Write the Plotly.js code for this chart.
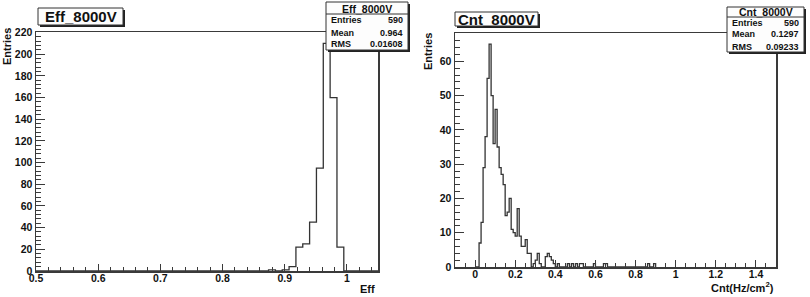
<!DOCTYPE html>
<html>
<head>
<meta charset="utf-8">
<script src="https://cdn.plot.ly/plotly-3.0.1.min.js"></script>
<style>html,body{margin:0;padding:0;background:#fff;}#plot{width:810px;height:297px;}</style>
</head>
<body>
<div id="plot"></div>
<script>
// ---------- data ----------
// Left histogram: Eff_8000V, 50 bins on [0.5, 1.05]
const effLow = 0.5;
const effBinWidth = 0.011;
const effCounts = [
  0,0,0,0,0,0,0,0,0,0,
  0,0,0,0,0,0,0,0,0,0,
  0,0,0,0,0,0,0,0,0,0,
  0,0,0,0,1,0,1,4,22,25,
  45,95,210,160,22,0,0,0,0,0
];
// Right histogram: Cnt_8000V, bins of 0.01 starting at 0.0 (axis -0.1 .. 1.5)
const cntLow = 0.0;
const cntBinWidth = 0.01;
const cntCounts = [
  0,0,7,13,29,38,55,65,50,36,
  46,35,29,27,24,15,16,20,11,10,
  9,17,9,6,6,8,4,4,0,1,
  2,4,1,0,0,3,4,3,2,1,
  0,1,0,0,0,0,1,0,1,0,
  1,0,1,1,0,0,0,0,0,1,
  0,0,0,0,1,1,0,0,0,0,
  0,0,0,0,0,0,0,0,0,0,
  0,0,0,0,0,0,1,0,0,1
];
const effStats = {name:'Eff_8000V', entries:'590', mean:'0.964', rms:'0.01608'};
const cntStats = {name:'Cnt_8000V', entries:'590', mean:'0.1297', rms:'0.09233'};
const xTitles = ['Eff', 'Cnt(Hz/cm<sup>2</sup>)'];
const yTitle = 'Entries';

// ---------- helpers ----------
const W = 810, H = 297;
const px = x => x / W;
const py = y => 1 - y / H;

function stepXY(low, width, counts) {
  const xs = [], ys = [];
  xs.push(low); ys.push(0);
  for (let i = 0; i < counts.length; i++) {
    xs.push(low + i * width); ys.push(counts[i]);
  }
  xs.push(low + counts.length * width); ys.push(0);
  return {xs, ys};
}

const FONT = 'Liberation Sans, Arial, sans-serif';
const LC = '#3a3a3a';

const e = stepXY(effLow, effBinWidth, effCounts);
const c = stepXY(cntLow, cntBinWidth, cntCounts);

const traces = [
  {x: e.xs, y: e.ys, type: 'scatter', mode: 'lines', line: {shape: 'hv', color: '#333', width: 1.3}, xaxis: 'x', yaxis: 'y', hoverinfo: 'skip'},
  {x: c.xs, y: c.ys, type: 'scatter', mode: 'lines', line: {shape: 'hv', color: '#333', width: 1.3}, xaxis: 'x2', yaxis: 'y2', hoverinfo: 'skip'}
];

function axisBase(extra) {
  return Object.assign({
    showgrid: false, zeroline: false, showline: true, mirror: true,
    linecolor: LC, linewidth: 1.5,
    ticks: 'inside', ticklen: 8, tickwidth: 1, tickcolor: LC,
    tickfont: {family: FONT, size: 10.5, color: '#111', weight: 'bold'},
    fixedrange: true
  }, extra);
}

const layout = {
  width: W, height: H,
  margin: {l: 0, r: 0, t: 0, b: 0},
  paper_bgcolor: '#fff', plot_bgcolor: '#fff',
  showlegend: false,
  xaxis: axisBase({domain: [px(36), px(378)], range: [0.5, 1.05], tick0: 0.5, dtick: 0.1, anchor: 'y',
    ticklabelstandoff: -3, ticklen: 7,
    minor: {ticks: 'inside', ticklen: 4, dtick: 0.02, tick0: 0.5, tickcolor: LC}}),
  yaxis: axisBase({domain: [py(271), py(32)], range: [0, 220.5], tick0: 0, dtick: 20, anchor: 'x',
    ticklen: 9,
    minor: {ticks: 'inside', ticklen: 5, dtick: 4, tick0: 0, tickcolor: LC}}),
  xaxis2: axisBase({domain: [px(455), px(776)], range: [-0.1, 1.5], tick0: 0, dtick: 0.2, anchor: 'y2',
    ticklabelstandoff: -3, ticklen: 7,
    minor: {ticks: 'inside', ticklen: 4, dtick: 0.05, tick0: 0, tickcolor: LC}}),
  yaxis2: axisBase({domain: [py(267), py(33)], range: [0, 68.25], tick0: 0, dtick: 10, anchor: 'x2',
    ticklen: 9,
    minor: {ticks: 'inside', ticklen: 5, dtick: 2, tick0: 0, tickcolor: LC}}),
  shapes: [],
  annotations: []
};

function addBox(x0, y0, x1, y1, shadow) {
  if (shadow) {
    layout.shapes.push({type: 'rect', xref: 'paper', yref: 'paper', layer: 'above',
      x0: px(x0 + 2), x1: px(x1 + 2), y0: py(y1 + 2), y1: py(y0 + 2),
      fillcolor: '#222', line: {width: 0}});
  }
  layout.shapes.push({type: 'rect', xref: 'paper', yref: 'paper', layer: 'above',
    x0: px(x0), x1: px(x1), y0: py(y1), y1: py(y0),
    fillcolor: '#fdfdfd', line: {color: '#333', width: 1}});
}
function addLine(x0, y, x1) {
  layout.shapes.push({type: 'line', xref: 'paper', yref: 'paper', layer: 'above',
    x0: px(x0), x1: px(x1), y0: py(y), y1: py(y), line: {color: '#333', width: 1}});
}
function addText(text, x, y, size, xanchor, angle) {
  layout.annotations.push({text: text, xref: 'paper', yref: 'paper', x: px(x), y: py(y),
    xanchor: xanchor || 'center', yanchor: 'middle', showarrow: false, textangle: angle || 0,
    font: {family: FONT, size: size, color: '#111', weight: 'bold'}});
}

// title boxes
addBox(38, 8, 123, 25, true);
addText(effStats.name, 80.5, 16.5, 15);
addBox(455, 12, 538, 26, true);
addText(cntStats.name, 496.5, 19, 15);

// stat boxes
function statBox(s, x0, y0, x1, y1, divY, rows) {
  addBox(x0, y0, x1, y1, true);
  addLine(x0, divY, x1);
  addText(s.name, (x0 + x1) / 2, (y0 + divY) / 2 + 0.5, 10.5);
  addText('Entries', x0 + 3, rows[0], 9, 'left');
  addText(s.entries, x1 - 3, rows[0], 9, 'right');
  addText('Mean', x0 + 3, rows[1], 9, 'left');
  addText(s.mean, x1 - 3, rows[1], 9, 'right');
  addText('RMS', x0 + 3, rows[2], 9, 'left');
  addText(s.rms, x1 - 3, rows[2], 9, 'right');
}
statBox(effStats, 326, 2, 408, 50, 14, [20, 32.5, 44]);
statBox(cntStats, 727, 7, 804, 52, 17, [23, 34.5, 46.5]);

// axis titles
addText(yTitle, 7, 47, 11, 'center', -90);
addText(yTitle, 428, 51, 11, 'center', -90);
addText(xTitles[0], 377, 289, 11, 'right');
addText(xTitles[1], 776, 287, 11, 'right');

Plotly.newPlot('plot', traces, layout, {staticPlot: true, displayModeBar: false});
</script>
</body>
</html>
